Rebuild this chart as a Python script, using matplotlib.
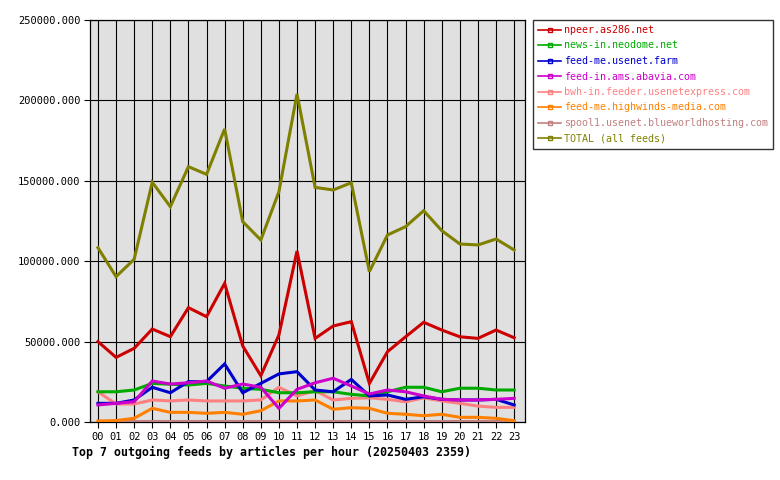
import matplotlib
matplotlib.use('Agg')
import matplotlib.pyplot as plt
from matplotlib.lines import Line2D

hours = ['%02d' % h for h in range(24)]

npeer = [50000, 40200, 45800, 57800, 53100, 71100, 65500, 86200, 47300, 28800, 54100, 106300,
         52000, 59700, 62400, 24000, 43700, 53000, 62000, 57200, 53000, 52000, 57200, 52400]
neodome = [18800, 18800, 19900, 24000, 23500, 23000, 24000, 22400, 21000, 20300, 18200, 18200,
           18800, 18800, 17200, 16200, 18800, 21600, 21600, 18800, 21000, 21000, 19900, 19900]
usenetfarm = [11600, 11600, 13700, 21600, 18200, 25100, 25100, 36100, 18200, 24000, 29900, 31300,
              19900, 18800, 26500, 16200, 16800, 14100, 15700, 14100, 13700, 13700, 14100, 10600]
abavia = [10600, 11600, 12600, 25500, 23600, 24400, 25500, 21000, 23600, 21600, 8500, 20300,
          24400, 27200, 22400, 17400, 19900, 18800, 16200, 14100, 13700, 13700, 14100, 14700]
usenetexpress = [18800, 11200, 11200, 13700, 13100, 13700, 13100, 13100, 13100, 13700, 21600, 16200,
                 19500, 13700, 14700, 15000, 14100, 12600, 15000, 13100, 11600, 9900, 9100, 9100]
highwinds = [600, 900, 2300, 8500, 6000, 6000, 5400, 6000, 4800, 7000, 13100, 13100,
             13700, 7900, 8900, 8500, 5400, 4800, 3900, 4800, 2900, 2900, 2300, 800]
blueworld = [900] * 24
total = [108400, 90400, 101200, 149100, 133900, 158800, 154000, 182200, 124600, 113200, 143200, 204000,
         145900, 144300, 148800, 93500, 116300, 121500, 131400, 119000, 110700, 110100, 113800, 107000]

series = [
    ('spool1.usenet.blueworldhosting.com', blueworld, '#c08080'),
    ('feed-me.highwinds-media.com', highwinds, '#ff8000'),
    ('bwh-in.feeder.usenetexpress.com', usenetexpress, '#ff8080'),
    ('news-in.neodome.net', neodome, '#00aa00'),
    ('feed-me.usenet.farm', usenetfarm, '#0000cc'),
    ('feed-in.ams.abavia.com', abavia, '#cc00cc'),
    ('npeer.as286.net', npeer, '#cc0000'),
    ('TOTAL (all feeds)', total, '#808000'),
]
legend_order = ['npeer.as286.net', 'news-in.neodome.net', 'feed-me.usenet.farm',
                'feed-in.ams.abavia.com', 'bwh-in.feeder.usenetexpress.com',
                'feed-me.highwinds-media.com', 'spool1.usenet.blueworldhosting.com',
                'TOTAL (all feeds)']

plt.rcParams['font.family'] = 'DejaVu Sans Mono'

fig = plt.figure(figsize=(7.8, 4.8), dpi=100)
ax = fig.add_axes([90/780, 1 - 422/480, 435/780, 402/480])
ax.set_facecolor('#e0e0e0')

x = list(range(24))
colors = {}
for name, vals, col in series:
    ax.plot(x, vals, color=col, lw=2.2, solid_joinstyle='miter', zorder=3)
    colors[name] = col

ax.set_xlim(-0.44, 23.6)
ax.set_ylim(0, 250000)
ax.set_xticks(x)
ax.set_xticklabels(hours, fontsize=7.5)
ax.set_yticks(range(0, 250001, 50000))
ax.set_yticklabels(['%d.000' % v for v in range(0, 250001, 50000)], fontsize=7.5)
ax.grid(True, color='black', lw=0.8)
ax.set_axisbelow(True)
ax.tick_params(direction='out', length=4, width=0.8, colors='black', pad=3)
for s in ax.spines.values():
    s.set_color('black')
    s.set_linewidth(0.9)

handles = [Line2D([0], [0], color=colors[n], lw=1.2, marker='s', markersize=3,
                  markerfacecolor='none', markeredgecolor=colors[n]) for n in legend_order]
leg = fig.legend(handles, legend_order, loc='upper left', bbox_to_anchor=(533/780, 1 - 20/480),
                 frameon=True, fancybox=False, edgecolor='black', fontsize=7.2,
                 handlelength=2.3, handletextpad=0.3, labelspacing=0.55, borderpad=0.5,
                 borderaxespad=0, labelcolor='linecolor')
leg.get_frame().set_linewidth(1.0)

fig.text(72/780, 1 - 452/480, 'Top 7 outgoing feeds by articles per hour (20250403 2359)',
         fontsize=8.4, fontweight='bold', va='center', ha='left')

fig.savefig('out.png', dpi=100)
